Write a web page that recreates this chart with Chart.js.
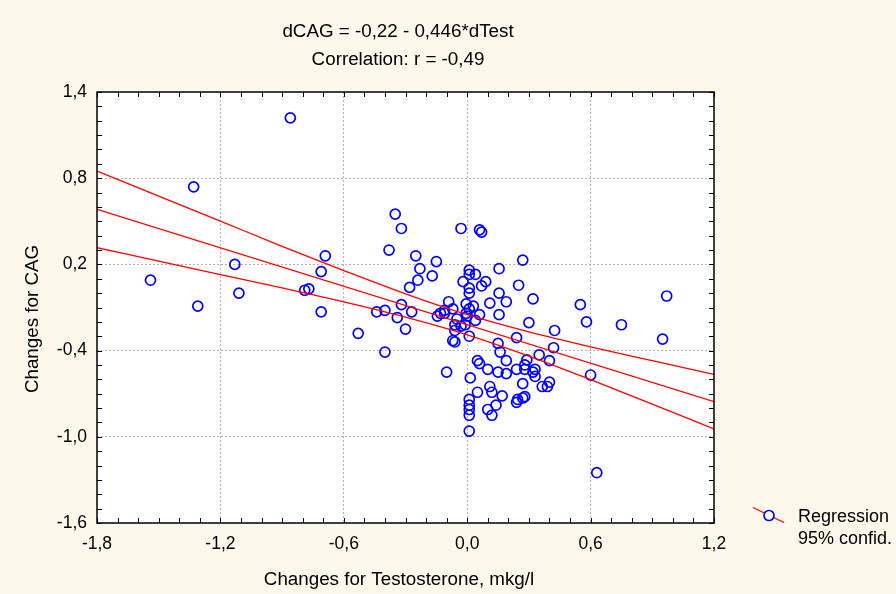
<!DOCTYPE html>
<html>
<head>
<meta charset="utf-8">
<script src="https://cdn.jsdelivr.net/npm/chart.js@4"></script>
<style>
  html, body { margin: 0; padding: 0; background: #fcf8ec; }
  canvas { display: block; }
</style>
</head>
<body>
<canvas id="c" width="896" height="594"></canvas>
<script>
const titleLines = ['dCAG = -0,22 - 0,446*dTest', 'Correlation: r = -0,49'];
const xAxisTitle = 'Changes for Testosterone, mkg/l';
const yAxisTitle = 'Changes for CAG';
const legendLabels = ['Regression', '95% confid.'];

const xTickValues = [-1.8, -1.2, -0.6, 0, 0.6, 1.2];
const xTickLabels = ['-1,8', '-1,2', '-0,6', '0,0', '0,6', '1,2'];
const yTickValues = [-1.6, -1.0, -0.4, 0.2, 0.8, 1.4];
const yTickLabels = ['-1,6', '-1,0', '-0,4', '0,2', '0,8', '1,4'];

const testChange = [
  -1.54, -1.31, -1.33, -1.13, -1.11, -0.86, -0.79, -0.77, -0.71, -0.71,
  -0.69, -0.53, -0.44, -0.40, -0.40, -0.38, -0.35, -0.32, -0.32, -0.34,
  -0.30, -0.27, -0.28, -0.25, -0.23, -0.24, -0.17, -0.15, -0.145, -0.13,
  -0.11, -0.11, -0.10, -0.09, -0.07, -0.06, -0.06, -0.07, -0.06, -0.05,
  -0.03, -0.03, -0.02, -0.01, -0.005, -0.005, 0.00, 0.01, 0.01, 0.01,
  0.01, 0.01, 0.01, 0.015, 0.01, 0.01, 0.01, 0.01, 0.01, 0.03,
  0.04, 0.04, 0.05, 0.05, 0.06, 0.06, 0.06, 0.07, 0.07, 0.09,
  0.10, 0.10, 0.11, 0.11, 0.12, 0.12, 0.14, 0.15, 0.15, 0.155,
  0.155, 0.155, 0.16, 0.17, 0.19, 0.19, 0.19, 0.24, 0.24, 0.245,
  0.24, 0.25, 0.27, 0.27, 0.27, 0.28, 0.28, 0.28, 0.29, 0.30,
  0.32, 0.32, 0.33, 0.33, 0.35, 0.365, 0.39, 0.40, 0.40, 0.42,
  0.425, 0.55, 0.58, 0.60, 0.63, 0.75, 0.95, 0.97
];
const cagChange = [
  0.09, -0.09, 0.74, 0.20, 0.00, 1.22, 0.02, 0.03, -0.13, 0.15,
  0.26, -0.28, -0.13, -0.12, -0.41, 0.30, 0.55, 0.45, -0.08, -0.17,
  -0.25, -0.13, 0.04, 0.26, 0.17, 0.09, 0.12, 0.22, -0.16, -0.14,
  -0.12, -0.14, -0.55, -0.06, -0.11, -0.22, -0.26, -0.33, -0.34, -0.18,
  0.45, -0.23, 0.08, -0.22, -0.075, -0.14, -0.16, 0.16, 0.13, 0.035,
  0.00, -0.11, -0.30, -0.59, -0.74, -0.78, -0.81, -0.85, -0.96, -0.09,
  -0.19, 0.13, -0.69, -0.47, -0.49, -0.15, 0.44, 0.425, 0.05, 0.08,
  -0.53, -0.81, -0.07, -0.65, -0.69, -0.85, -0.78, -0.35, -0.55, 0.17,
  0.00, -0.15, -0.41, -0.715, -0.06, -0.47, -0.56, -0.53, -0.31, -0.74,
  -0.76, 0.055, 0.23, -0.63, -0.73, -0.72, -0.53, -0.50, -0.465, -0.205,
  -0.04, -0.55, -0.58, -0.53, -0.43, -0.65, -0.65, -0.47, -0.62, -0.38,
  -0.26, -0.08, -0.20, -0.57, -1.25, -0.22, -0.32, -0.02
];

// regression line end points and 95% confidence band
const fitX = [-1.8, 1.2];
const fitY = [0.583, -0.755];
const bandX = [-1.8, -1.5, -1.2, -0.9, -0.6, -0.3, 0, 0.3, 0.6, 0.9, 1.2];
const bandUpper = [0.850, 0.675, 0.501, 0.326, 0.157, -0.005, -0.150, -0.270, -0.374, -0.470, -0.565];
const bandLower = [0.316, 0.223, 0.129, 0.036, -0.061, -0.167, -0.290, -0.438, -0.602, -0.772, -0.945];

const FONT = "'Liberation Sans', Arial, Helvetica, sans-serif";
const BG = '#fcf8ec';

const pts = testChange.map((v, i) => ({ x: v, y: cagChange[i] }));
const fitPts = fitX.map((v, i) => ({ x: v, y: fitY[i] }));
const upPts = bandX.map((v, i) => ({ x: v, y: bandUpper[i] }));
const loPts = bandX.map((v, i) => ({ x: v, y: bandLower[i] }));

const decor = {
  id: 'decor',
  beforeDraw(chart) {
    const { ctx, chartArea: a } = chart;
    ctx.save();
    ctx.fillStyle = BG;
    ctx.fillRect(0, 0, chart.width, chart.height);
    ctx.fillStyle = '#ffffff';
    ctx.fillRect(a.left, a.top, a.right - a.left, a.bottom - a.top);
    ctx.restore();
  },
  afterDraw(chart) {
    const { ctx, chartArea: a, scales } = chart;
    const xs = scales.x, ys = scales.y;
    ctx.save();
    // inward minor/major ticks
    ctx.strokeStyle = '#000';
    ctx.lineWidth = 1;
    ctx.beginPath();
    const nx = Math.round((xs.max - xs.min) / 0.1);
    for (let i = 0; i <= nx; i++) {
      const px = Math.round(xs.getPixelForValue(xs.min + i * 0.1)) + 0.5;
      ctx.moveTo(px, a.top); ctx.lineTo(px, a.top + 5);
      ctx.moveTo(px, a.bottom); ctx.lineTo(px, a.bottom - 5);
    }
    const ny = Math.round((ys.max - ys.min) / 0.1);
    for (let i = 0; i <= ny; i++) {
      const py = Math.round(ys.getPixelForValue(ys.min + i * 0.1)) + 0.5;
      ctx.moveTo(a.left, py); ctx.lineTo(a.left + 5, py);
      ctx.moveTo(a.right, py); ctx.lineTo(a.right - 5, py);
    }
    ctx.stroke();
    // frame
    ctx.lineWidth = 1.5;
    ctx.strokeRect(a.left, a.top, a.right - a.left, a.bottom - a.top);

    // titles
    ctx.fillStyle = '#000';
    ctx.font = '18.8px ' + FONT;
    ctx.textAlign = 'center';
    ctx.textBaseline = 'alphabetic';
    ctx.fillText(titleLines[0], 398, 37);
    ctx.fillText(titleLines[1], 398, 64.5);
    ctx.fillText(xAxisTitle, 399, 585);
    ctx.save();
    ctx.translate(38, 319);
    ctx.rotate(-Math.PI / 2);
    ctx.fillText(yAxisTitle, 0, 0);
    ctx.restore();

    // legend
    ctx.strokeStyle = '#ff0000';
    ctx.lineWidth = 1.3;
    ctx.beginPath();
    ctx.moveTo(753, 507.5);
    ctx.lineTo(784, 522.5);
    ctx.stroke();
    ctx.beginPath();
    ctx.arc(769, 515.5, 5, 0, Math.PI * 2);
    ctx.fillStyle = '#ffffff';
    ctx.fill();
    ctx.strokeStyle = '#0000ff';
    ctx.lineWidth = 1.7;
    ctx.stroke();
    ctx.fillStyle = '#000';
    ctx.font = '18px ' + FONT;
    ctx.textAlign = 'left';
    ctx.fillText(legendLabels[0], 798, 521.5);
    ctx.fillText(legendLabels[1], 798, 544);
    ctx.restore();
  }
};

const gridColor = (ctx) => {
  const n = xTickValues.length;
  return (ctx.index === 0 || ctx.index === n - 1) ? 'rgba(0,0,0,0)' : '#b4b4b4';
};

new Chart(document.getElementById('c'), {
  type: 'scatter',
  data: {
    datasets: [
      {
        type: 'line', label: 'fit', data: fitPts, order: 1,
        borderColor: '#ff0000', borderWidth: 1.3, pointRadius: 0, fill: false
      },
      {
        type: 'line', label: 'upper', data: upPts, order: 1,
        borderColor: '#ff0000', borderWidth: 1.3, pointRadius: 0, fill: false,
        cubicInterpolationMode: 'monotone'
      },
      {
        type: 'line', label: 'lower', data: loPts, order: 1,
        borderColor: '#ff0000', borderWidth: 1.3, pointRadius: 0, fill: false,
        cubicInterpolationMode: 'monotone'
      },
      {
        type: 'scatter', label: 'data', data: pts, order: 2,
        pointRadius: 5, pointBorderWidth: 1.7,
        borderColor: '#0000ff', backgroundColor: 'rgba(0,0,0,0)',
        pointHoverRadius: 5
      }
    ]
  },
  options: {
    responsive: false,
    animation: false,
    devicePixelRatio: 1,
    layout: { padding: { top: 92, right: 182, left: 0, bottom: 0 } },
    plugins: { legend: { display: false }, tooltip: { enabled: false }, title: { display: false } },
    events: [],
    scales: {
      x: {
        type: 'linear', min: -1.8, max: 1.2,
        afterBuildTicks: (s) => { s.ticks = xTickValues.map(v => ({ value: v })); },
        afterFit: (s) => { s.height = 71; },
        ticks: {
          autoSkip: false, maxRotation: 0, padding: 11, color: '#000',
          font: { family: FONT, size: 17.5 },
          callback: (v, i) => xTickLabels[i]
        },
        grid: { drawTicks: false, color: gridColor, lineWidth: 1 },
        border: { display: false, dash: [2, 2] }
      },
      y: {
        type: 'linear', min: -1.6, max: 1.4,
        afterBuildTicks: (s) => { s.ticks = yTickValues.map(v => ({ value: v })); },
        afterFit: (s) => { s.width = 97; },
        ticks: {
          autoSkip: false, padding: 10, color: '#000',
          font: { family: FONT, size: 17.5 },
          callback: (v, i) => yTickLabels[i]
        },
        grid: { drawTicks: false, color: gridColor, lineWidth: 1 },
        border: { display: false, dash: [2, 2] }
      }
    }
  },
  plugins: [decor]
});
</script>
</body>
</html>
